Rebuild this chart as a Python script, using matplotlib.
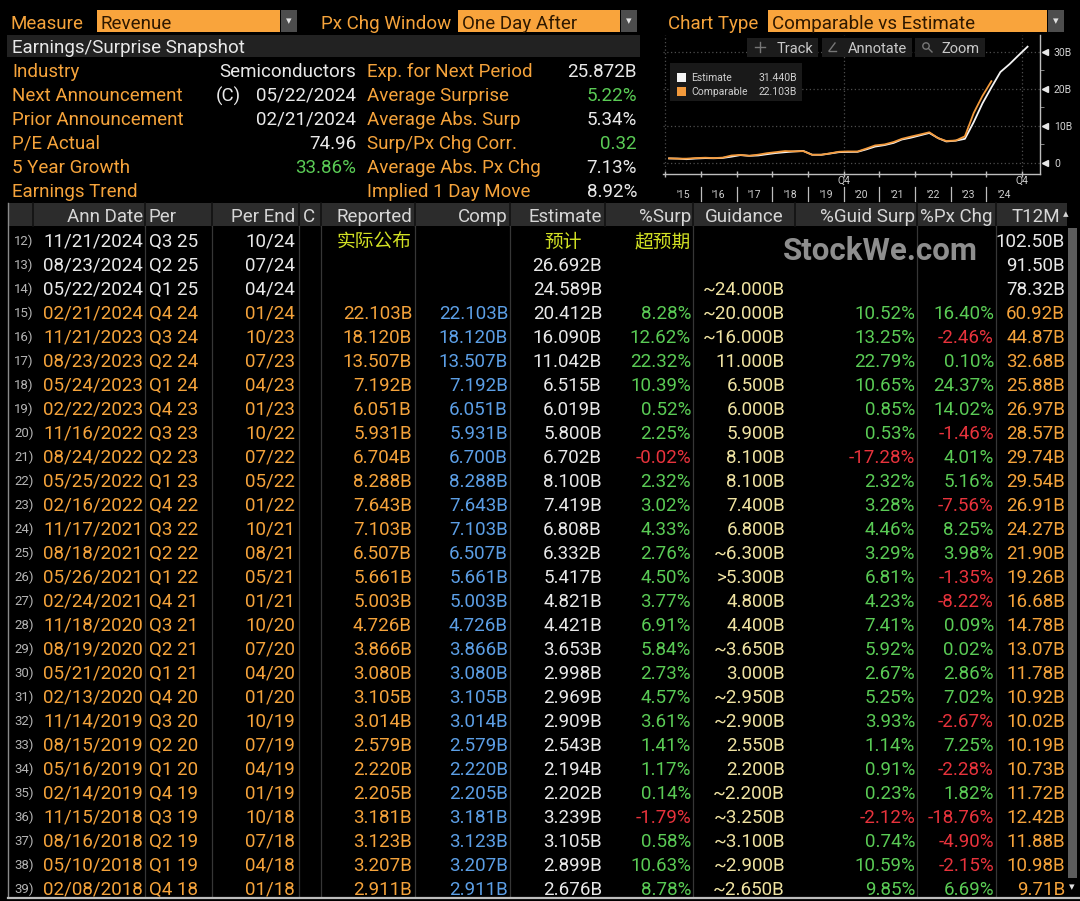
import matplotlib
matplotlib.use('Agg')
import matplotlib.pyplot as plt
from matplotlib.patches import Rectangle, Circle
from matplotlib.transforms import blended_transform_factory

# ---------------- data ----------------
control_labels = ["Measure", "Px Chg Window", "Chart Type"]
control_values = ["Revenue", "One Day After", "Comparable vs Estimate"]

snapshot_title = "Earnings/Surprise Snapshot"
snap_left_labels = ["Industry", "Next Announcement", "Prior Announcement", "P/E Actual", "5 Year Growth", "Earnings Trend"]
snap_left_values = ["Semiconductors", "05/22/2024", "02/21/2024", "74.96", "33.86%", ""]
next_ann_flag = "(C)"
snap_right_labels = ["Exp. for Next Period", "Average Surprise", "Average Abs. Surp", "Surp/Px Chg Corr.", "Average Abs. Px Chg", "Implied 1 Day Move"]
snap_right_values = ["25.872B", "5.22%", "5.34%", "0.32", "7.13%", "8.92%"]

table_headers = ["Ann Date", "Per", "Per End", "C", "Reported", "Comp", "Estimate", "%Surp",
                 "Guidance", "%Guid Surp", "%Px Chg", "T12M"]
row_ids = list(range(12, 40))
ann_dates = ["11/21/2024", "08/23/2024", "05/22/2024", "02/21/2024", "11/21/2023", "08/23/2023", "05/24/2023",
             "02/22/2023", "11/16/2022", "08/24/2022", "05/25/2022", "02/16/2022", "11/17/2021", "08/18/2021",
             "05/26/2021", "02/24/2021", "11/18/2020", "08/19/2020", "05/21/2020", "02/13/2020", "11/14/2019",
             "08/15/2019", "05/16/2019", "02/14/2019", "11/15/2018", "08/16/2018", "05/10/2018", "02/08/2018"]
periods = ["Q3 25", "Q2 25", "Q1 25", "Q4 24", "Q3 24", "Q2 24", "Q1 24", "Q4 23", "Q3 23", "Q2 23", "Q1 23",
           "Q4 22", "Q3 22", "Q2 22", "Q1 22", "Q4 21", "Q3 21", "Q2 21", "Q1 21", "Q4 20", "Q3 20", "Q2 20",
           "Q1 20", "Q4 19", "Q3 19", "Q2 19", "Q1 19", "Q4 18"]
per_ends = ["10/24", "07/24", "04/24", "01/24", "10/23", "07/23", "04/23", "01/23", "10/22", "07/22", "05/22",
            "01/22", "10/21", "08/21", "05/21", "01/21", "10/20", "07/20", "04/20", "01/20", "10/19", "07/19",
            "04/19", "01/19", "10/18", "07/18", "04/18", "01/18"]
reported = [None, None, None, 22.103, 18.120, 13.507, 7.192, 6.051, 5.931, 6.704, 8.288, 7.643, 7.103, 6.507,
            5.661, 5.003, 4.726, 3.866, 3.080, 3.105, 3.014, 2.579, 2.220, 2.205, 3.181, 3.123, 3.207, 2.911]
comparable = [None, None, None, 22.103, 18.120, 13.507, 7.192, 6.051, 5.931, 6.700, 8.288, 7.643, 7.103, 6.507,
              5.661, 5.003, 4.726, 3.866, 3.080, 3.105, 3.014, 2.579, 2.220, 2.205, 3.181, 3.123, 3.207, 2.911]
estimate = [None, 26.692, 24.589, 20.412, 16.090, 11.042, 6.515, 6.019, 5.800, 6.702, 8.100, 7.419, 6.808, 6.332,
            5.417, 4.821, 4.421, 3.653, 2.998, 2.969, 2.909, 2.543, 2.194, 2.202, 3.239, 3.105, 2.899, 2.676]
surprise_pct = [None, None, None, 8.28, 12.62, 22.32, 10.39, 0.52, 2.25, -0.02, 2.32, 3.02, 4.33, 2.76, 4.50,
                3.77, 6.91, 5.84, 2.73, 4.57, 3.61, 1.41, 1.17, 0.14, -1.79, 0.58, 10.63, 8.78]
guidance_prefix = ["", "", "~", "~", "~", "", "", "", "", "", "", "", "", "~", ">", "", "", "~", "", "~", "~",
                   "", "", "~", "~", "~", "~", "~"]
guidance = [None, None, 24.000, 20.000, 16.000, 11.000, 6.500, 6.000, 5.900, 8.100, 8.100, 7.400, 6.800, 6.300,
            5.300, 4.800, 4.400, 3.650, 3.000, 2.950, 2.900, 2.550, 2.200, 2.200, 3.250, 3.100, 2.900, 2.650]
guid_surp_pct = [None, None, None, 10.52, 13.25, 22.79, 10.65, 0.85, 0.53, -17.28, 2.32, 3.28, 4.46, 3.29, 6.81,
                 4.23, 7.41, 5.92, 2.67, 5.25, 3.93, 1.14, 0.91, 0.23, -2.12, 0.74, 10.59, 9.85]
px_chg_pct = [None, None, None, 16.40, -2.46, 0.10, 24.37, 14.02, -1.46, 4.01, 5.16, -7.56, 8.25, 3.98, -1.35,
              -8.22, 0.09, 0.02, 2.86, 7.02, -2.67, 7.25, -2.28, 1.82, -18.76, -4.90, -2.15, 6.69]
t12m = [102.50, 91.50, 78.32, 60.92, 44.87, 32.68, 25.88, 26.97, 28.57, 29.74, 29.54, 26.91, 24.27, 21.90, 19.26,
        16.68, 14.78, 13.07, 11.78, 10.92, 10.02, 10.19, 10.73, 11.72, 12.42, 11.88, 10.98, 9.71]
notes_cn = ["实际公布", "预计", "超预期"]
watermark = "StockWe.com"

# mini chart: earlier history and forward estimates
early_dates = ["02/11/2015", "05/07/2015", "08/06/2015", "11/05/2015", "02/17/2016", "05/12/2016", "08/11/2016",
               "11/10/2016", "02/09/2017", "05/09/2017", "08/10/2017", "11/09/2017"]
early_comparable = [1.251, 1.151, 1.153, 1.305, 1.401, 1.305, 1.428, 2.004, 2.173, 1.937, 2.230, 2.636]
early_estimate = [1.20, 1.17, 1.01, 1.18, 1.30, 1.26, 1.35, 1.69, 2.11, 1.91, 2.02, 2.36]
future_dates = ["11/21/2024", "02/26/2025"]
future_estimate = [29.0, 31.44]
chart_years = list(range(2015, 2026))
year_labels = ["'15", "'16", "'17", "'18", "'19", "'20", "'21", "'22", "'23", "'24"]
q4_marks = [2020, 2025]
y_ticks = [0, 10, 20, 30]
y_tick_labels = ["0", "10B", "20B", "30B"]
toolbar_items = ["Track", "Annotate", "Zoom"]

# ---------------- style ----------------
FONT = 'Roboto'
FS = 13.5
ORANGE = '#f5a33b'
BOXORANGE = '#f9a43c'
WHITE = '#e9e9e9'
GREEN = '#5acb55'
RED = '#e8333c'
BLUE = '#5c9fe6'
CREAM = '#f0e3a2'
GREY = '#b5b5b5'
CNYEL = '#d3e224'

W, H = 1080, 901
fig = plt.figure(figsize=(W / 100, H / 100), dpi=100, facecolor='black')
ax = fig.add_axes([0, 0, 1, 1])
ax.set_xlim(0, W)
ax.set_ylim(H, 0)
ax.axis('off')


def T(a, x, y, s, c, ha='left', size=FS, weight='normal', family=FONT, **kw):
    a.text(x, y, s, color=c, ha=ha, va='center_baseline', fontsize=size, fontweight=weight,
           family=family, **kw)


def R(a, x0, y0, x1, y1, c, z=0, **kw):
    a.add_patch(Rectangle((x0, y0), x1 - x0, y1 - y0, facecolor=c, edgecolor='none', zorder=z, **kw))


# ---- top controls ----
ctrl_label_x = [10, 321, 668]
ctrl_box = [(97, 280), (458, 620), (768, 1047)]
for lab, val, lx, (b0, b1) in zip(control_labels, control_values, ctrl_label_x, ctrl_box):
    T(ax, lx, 22, lab, ORANGE)
    R(ax, b0, 10, b1, 32, BOXORANGE)
    T(ax, b0 + 4, 22, val, '#2e1800')
    R(ax, b1 + 1, 10, b1 + 17, 32, '#4d4d4d')
    ax.text(b1 + 9, 21, '▾', color='#e0e0e0', ha='center', va='center', fontsize=8, family='DejaVu Sans')

# ---- snapshot ----
R(ax, 7, 35, 640, 57, '#222222')
T(ax, 12, 46, snapshot_title, WHITE)
left_val_colors = [WHITE, WHITE, WHITE, WHITE, GREEN, WHITE]
right_val_colors = [WHITE, GREEN, WHITE, GREEN, WHITE, WHITE]
for i in range(6):
    y = 70 + 24 * i
    T(ax, 12, y, snap_left_labels[i], ORANGE)
    T(ax, 356, y, snap_left_values[i], left_val_colors[i], ha='right')
    T(ax, 367, y, snap_right_labels[i], ORANGE)
    T(ax, 637, y, snap_right_values[i], right_val_colors[i], ha='right')
T(ax, 216, 94, next_ann_flag, WHITE)

# ---- table ----
HDR0, HDR1 = 203, 226
R(ax, 8, HDR0, 1067, HDR1, '#2c2c2c')
hdr_pos = [(143, 'right'), (149, 'left'), (295, 'right'), (303, 'left'), (412, 'right'), (508, 'right'),
           (602, 'right'), (691, 'right'), (784, 'right'), (915, 'right'), (992, 'right'), (1060, 'right')]
for h, (x, ha) in zip(table_headers, hdr_pos):
    T(ax, x, 215, h, '#d6d6d6', ha=ha)
ax.text(1066, 214, '▴', color='#d6d6d6', ha='center', va='center', fontsize=8, family='DejaVu Sans')
for x in [33, 145, 212, 299, 321, 415, 510, 605, 693, 795, 917, 996]:
    ax.plot([x, x], [HDR0, HDR1], color='#111111', lw=1.2)

# separators in body
for x in [145, 212, 299, 321, 415, 510, 693, 917, 996]:
    ax.plot([x, x], [HDR1, 896], color='#363636', lw=0.9)
ax.plot([8, 8], [HDR0, 897], color='#8a8a8a', lw=1.0)
ax.plot([8, 1080], [898, 898], color='#bdbdbd', lw=1.6)
# scrollbar
R(ax, 1068, 228, 1077, 878, '#5c5c5c')
ax.text(1072, 887, '▾', color='#e0e0e0', ha='center', va='center', fontsize=8, family='DejaVu Sans')


def pct_color(v):
    return GREEN if v >= 0 else RED


Y0, DY = 240, 24.0
for i in range(len(row_ids)):
    y = Y0 + DY * i
    done = reported[i] is not None
    base = ORANGE if done else WHITE
    T(ax, 14, y, f"{row_ids[i]})", GREY, size=9.5)
    T(ax, 143, y, ann_dates[i], base, ha='right')
    T(ax, 149, y, periods[i], base)
    T(ax, 295, y, per_ends[i], base, ha='right')
    if reported[i] is not None:
        T(ax, 412, y, f"{reported[i]:.3f}B", ORANGE, ha='right')
    if comparable[i] is not None:
        T(ax, 508, y, f"{comparable[i]:.3f}B", BLUE, ha='right')
    if estimate[i] is not None:
        T(ax, 602, y, f"{estimate[i]:.3f}B", WHITE, ha='right')
    if surprise_pct[i] is not None:
        T(ax, 691, y, f"{surprise_pct[i]:.2f}%", pct_color(surprise_pct[i]), ha='right')
    if guidance[i] is not None:
        T(ax, 785, y, f"{guidance_prefix[i]}{guidance[i]:.3f}B", CREAM, ha='right')
    if guid_surp_pct[i] is not None:
        T(ax, 915, y, f"{guid_surp_pct[i]:.2f}%", pct_color(guid_surp_pct[i]), ha='right')
    if px_chg_pct[i] is not None:
        T(ax, 994, y, f"{px_chg_pct[i]:.2f}%", pct_color(px_chg_pct[i]), ha='right')
    T(ax, 1065, y, f"{t12m[i]:.2f}B", base, ha='right')

CN = ['Noto Sans CJK SC', 'DejaVu Sans']
T(ax, 412, Y0, notes_cn[0], CNYEL, ha='right', family=CN)
T(ax, 563, Y0, notes_cn[1], CNYEL, ha='center', family=CN)
T(ax, 691, Y0, notes_cn[2], CNYEL, ha='right', family=CN)
ax.text(880, 251, watermark, color='#8e8e8e', ha='center', va='center', fontsize=22.5,
        fontweight='bold', family=FONT, zorder=5)


# ---- mini chart ----
def frac_year(s):
    m, d, y = map(int, s.split('/'))
    return y + (m - 1) / 12 + (d - 1) / 365


comp_pts = sorted([(frac_year(d), v) for d, v in zip(early_dates, early_comparable)] +
                  [(frac_year(d), v) for d, v in zip(ann_dates, comparable) if v is not None])
est_pts = sorted([(frac_year(d), v) for d, v in zip(early_dates, early_estimate)] +
                 [(frac_year(d), v) for d, v in zip(ann_dates, estimate) if v is not None] +
                 [(frac_year(d), v) for d, v in zip(future_dates, future_estimate)])

cx0, cx1, cy0, cy1 = 663, 1040, 35, 174
ax2 = fig.add_axes([cx0 / W, 1 - cy1 / H, (cx1 - cx0) / W, (cy1 - cy0) / H])
ax2.set_facecolor('black')
ax2.set_xlim(2014.94, 2025.5)
ax2.set_ylim(-3.0, 34.6)
for s in ['top', 'left']:
    ax2.spines[s].set_visible(False)
for s in ['right', 'bottom']:
    ax2.spines[s].set_color('#bdbdbd')
    ax2.spines[s].set_linewidth(1.0)
for v in y_ticks:
    ax2.axhline(v, color='#4d4d4d', lw=0.9, ls=(0, (1, 2)), zorder=0)
for v in [chart_years[0]] + q4_marks:
    ax2.axvline(v, color='#4d4d4d', lw=0.9, ls=(0, (1, 2)), zorder=0)

ax2.plot([p[0] for p in est_pts], [p[1] for p in est_pts], color='#f4f4f4', lw=1.3, zorder=3)
ax2.plot([p[0] for p in comp_pts], [p[1] for p in comp_pts], color='#f39a3c', lw=1.3, zorder=4)

ax2.set_xticks(chart_years)
ax2.set_xticklabels([])
ax2.tick_params(axis='x', direction='inout', length=5, color='#bdbdbd', width=1)
ax2.yaxis.tick_right()
ax2.set_yticks(y_ticks)
ax2.set_yticklabels(y_tick_labels)
ax2.set_yticks([5, 15, 25], minor=True)
ax2.tick_params(axis='y', which='major', length=0, pad=10, labelcolor='#d2d2d2', labelsize=7.5)
ax2.tick_params(axis='y', which='minor', length=3, color='#9a9a9a', direction='out')
for lab in ax2.get_yticklabels():
    lab.set_family(FONT)
ax2.plot([1.012] * len(y_ticks), y_ticks, marker='<', ms=4.5, ls='none', color='#e8e8e8',
         transform=ax2.get_yaxis_transform(), clip_on=False)

tr = blended_transform_factory(ax2.transData, ax2.transAxes)


def ay(py):
    return (cy1 - py) / (cy1 - cy0)


for yr in chart_years[1:-1]:
    ax2.plot([yr, yr], [ay(187), ay(201)], color='#bdbdbd', lw=0.9, transform=tr, clip_on=False)
for yr, lab in zip(chart_years[:-1], year_labels):
    ax2.text(yr + 0.5, ay(195), lab, color='#cfcfcf', ha='center', va='center', fontsize=7.5,
             family=FONT, transform=tr, clip_on=False)
for q in q4_marks:
    ax2.text(q, ay(181), 'Q4', color='#cfcfcf', ha='center', va='center', fontsize=7.5,
             family=FONT, transform=tr, clip_on=False)

# ---- overlay (toolbar + legend) ----
ov = fig.add_axes([0, 0, 1, 1])
ov.set_xlim(0, W)
ov.set_ylim(H, 0)
ov.axis('off')
btns = [(747, 818), (822, 912), (915, 985)]
for (b0, b1), lab in zip(btns, toolbar_items):
    R(ov, b0, 38, b1, 57, '#1c1c1c')
    T(ov, b1 - 5, 47.5, lab, '#c9c9c9', ha='right', size=10.5)
ov.plot([755, 765], [47, 47], color='#777777', lw=1)
ov.plot([760, 760], [42, 52], color='#777777', lw=1)
ov.plot([829, 836], [51, 51], color='#777777', lw=1)
ov.plot([829, 835], [51, 43], color='#777777', lw=1)
ov.add_patch(Circle((926, 46), 3.2, fill=False, edgecolor='#777777', lw=1))
ov.plot([928.5, 932], [48.5, 52], color='#777777', lw=1)

R(ov, 670, 63, 802, 101, '#191919')
legend_names = ["Estimate", "Comparable"]
legend_vals = [est_pts[-1][1], comp_pts[-1][1]]
legend_cols = ['#f4f4f4', '#f39a3c']
for k in range(2):
    yy = 77 + 14 * k
    R(ov, 677, yy - 4.5, 686, yy + 4.5, legend_cols[k])
    T(ov, 691, yy, legend_names[k], '#cfcfcf', size=7.5)
    T(ov, 797, yy, f"{legend_vals[k]:.3f}B", '#cfcfcf', ha='right', size=7.5)

fig.savefig('out.png', dpi=100, facecolor='black')
